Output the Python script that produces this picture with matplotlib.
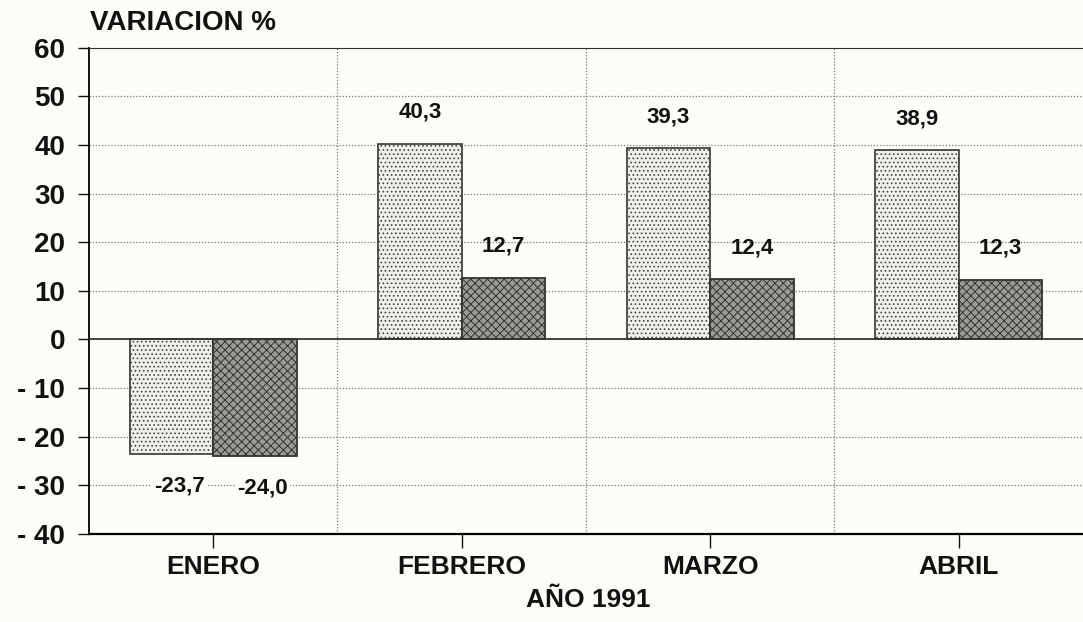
import matplotlib
matplotlib.use("Agg")
import matplotlib.pyplot as plt
import numpy as np

categories = ["ENERO", "FEBRERO", "MARZO", "ABRIL"]
serie_a = [-23.7, 40.3, 39.3, 38.9]
serie_b = [-24.0, 12.7, 12.4, 12.3]
labels_a = ["-23,7", "40,3", "39,3", "38,9"]
labels_b = ["-24,0", "12,7", "12,4", "12,3"]
yticks = [60, 50, 40, 30, 20, 10, 0, -10, -20, -30, -40]

plt.rcParams['font.family'] = ['Liberation Sans', 'DejaVu Sans']
plt.rcParams['hatch.linewidth'] = 0.7
plt.rcParams['hatch.color'] = '#555555'

bg = '#fdfdf8'
fig = plt.figure(figsize=(10.83, 6.22), dpi=100, facecolor=bg)
ax = fig.add_axes([0.082, 0.142, 0.918, 0.781])
ax.set_facecolor(bg)

x = np.arange(len(categories))
w = 0.336
ax.bar(x - w/2, serie_a, w, facecolor='#efefeb', edgecolor='#444444', hatch='....', linewidth=1.3, zorder=3)
ax.bar(x + w/2, serie_b, w, facecolor='#9a9a96', edgecolor='#333333', hatch='xxxx', linewidth=1.3, zorder=3)

off = 6.5
for i in range(len(categories)):
    for xpos, v, lab in ((x[i] - w/2, serie_a[i], labels_a[i]), (x[i] + w/2, serie_b[i], labels_b[i])):
        y = v + off if v >= 0 else v - off
        ax.text(xpos + (0.032 if v < 0 else 0), y, lab, ha='center', va='center', fontsize=16,
                fontweight='bold', zorder=5, color='#111111',
                bbox=dict(boxstyle='square,pad=0.1', facecolor=bg, edgecolor='none') if v < 0 else None)

ax.set_xlim(-0.5, 3.5)
ax.set_ylim(-40, 60)
ax.set_yticks(yticks)
ax.set_yticklabels([str(t) if t >= 0 else '- ' + str(-t) for t in yticks], fontsize=20, fontweight='bold')
ax.set_xticks(x)
ax.set_xticklabels(categories, fontsize=19, fontweight='bold')
ax.tick_params(axis='y', length=8, width=1, pad=9, colors='#111111')
ax.tick_params(axis='x', length=10, width=1, pad=5, colors='#111111')

for t in yticks:
    if t not in (0, -40, 60):
        ax.axhline(t, color='#777777', linestyle=(0, (1, 1.5)), linewidth=0.9, zorder=1)
for b in [0.5, 1.5, 2.5]:
    ax.axvline(b, color='#777777', linestyle=(0, (1, 1.5)), linewidth=0.9, zorder=1)
ax.axhline(0, color='#333333', linewidth=1.3, zorder=4)

ax.spines['right'].set_visible(False)
ax.spines['top'].set_color('#333333')
ax.spines['left'].set_linewidth(1.3)
ax.spines['bottom'].set_linewidth(1.6)

fig.text(0.083, 0.963, "VARIACION %", fontsize=20, fontweight='bold', ha='left', va='center', color='#111111')
fig.text(0.543, 0.035, "AÑO 1991", fontsize=19, fontweight='bold', ha='center', va='center', color='#111111')

fig.savefig("out.png", dpi=100, facecolor=fig.get_facecolor())
